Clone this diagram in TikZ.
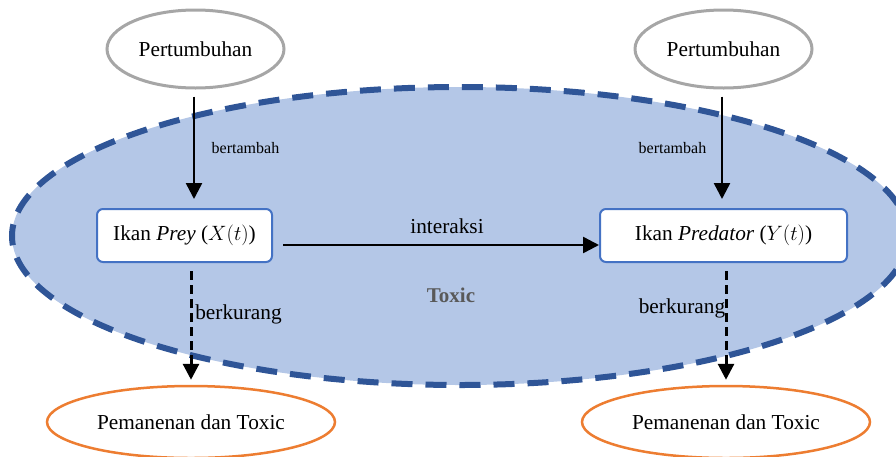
\documentclass[tikz,border=0pt]{standalone}
\usepackage{fontspec}
\setmainfont{Liberation Serif}
\usetikzlibrary{shapes.geometric,arrows.meta}
\definecolor{bigfill}{HTML}{B4C7E7}
\definecolor{bigline}{HTML}{2F5597}
\definecolor{boxline}{HTML}{4472C4}
\definecolor{grayline}{HTML}{A6A6A6}
\definecolor{orangeline}{HTML}{ED7D31}
\definecolor{toxictext}{HTML}{595959}
\begin{document}
\begin{tikzpicture}[x=1pt,y=-1pt,
  bigtext/.style={font=\fontsize{21.3}{25}\selectfont},
  smalltext/.style={font=\fontsize{16}{19}\selectfont},
  growell/.style={ellipse,draw=grayline,line width=3pt,fill=white,minimum width=177pt,minimum height=78pt,inner sep=0pt,bigtext},
  harvell/.style={ellipse,draw=orangeline,line width=2.5pt,fill=white,minimum width=288pt,minimum height=72pt,inner sep=0pt,bigtext},
  fishbox/.style={draw=boxline,line width=2pt,fill=white,rounded corners=6pt,minimum height=53pt,inner sep=0pt,bigtext},
  solidarr/.style={line width=2.5pt,-{Triangle[width=16pt,length=16pt]}},
  dasharr/.style={line width=3pt,dash pattern=on 9pt off 5pt,-{Triangle[width=16pt,length=16pt]}},
]
\useasboundingbox (0,0) rectangle (896,456);
% big toxic region
\node[ellipse,fill=bigfill,draw=bigline,line width=6pt,dash pattern=on 21pt off 13pt,minimum width=896pt,minimum height=298pt,inner sep=0pt] (env) at (460,236) {};
\node[font=\bfseries\fontsize{21}{25}\selectfont,text=toxictext] (toxic) at (451,295) {Toxic};

% growth ellipses
\node[growell] (pt1) at (195.5,49) {Pertumbuhan};
\node[growell] (pt2) at (723.5,49) {Pertumbuhan};

% fish boxes
\node[fishbox,minimum width=175pt] (box1) at (184.5,235.5) {Ikan \textit{Prey} ($X(t)$)};
\node[fishbox,minimum width=247pt] (box2) at (723.5,235.5) {Ikan \textit{Predator} ($Y(t)$)};

% harvest ellipses
\node[harvell] (pe1) at (191,422) {Pemanenan dan Toxic};
\node[harvell] (pe2) at (726,422) {Pemanenan dan Toxic};

% connectors
\draw[solidarr,shorten <=7pt,shorten >=9pt] ([xshift=-1.5pt]pt1.south) -- ([xshift=-1.5pt]pt1.south |- box1.north);
\draw[solidarr,shorten <=7pt,shorten >=9pt] ([xshift=-1.5pt]pt2.south) -- ([xshift=-1.5pt]pt2.south |- box2.north);
\draw[solidarr,shorten <=10pt] ([yshift=-9.5pt]box1.east) -- ([yshift=-9.5pt]box2.west);
\draw[dasharr,shorten <=8pt,shorten >=5pt] (pe1.north |- box1.south) -- (pe1.north);
\draw[dasharr,shorten <=8pt,shorten >=5pt] (pe2.north |- box2.south) -- (pe2.north);

% labels
\node[smalltext] (lb1) at (245.5,148) {bertambah};
\node[smalltext] (lb2) at (672.5,148) {bertambah};
\node[bigtext] (lint) at (447,226) {interaksi};
\node[bigtext] (lk1) at (238.5,314) {berkurang};
\node[bigtext] (lk2) at (682,308) {berkurang};
\end{tikzpicture}
\end{document}
